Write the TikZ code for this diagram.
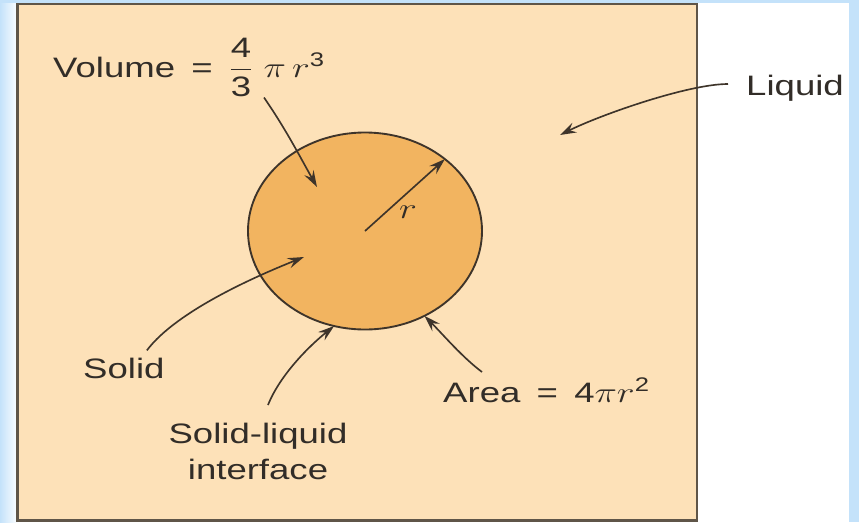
\documentclass[tikz,border=0pt]{standalone}
\usepackage{amsmath}
\usepackage{graphicx}
\usepackage{fontspec}
\setmainfont{Liberation Sans}
\usetikzlibrary{arrows.meta, shapes.geometric}

\definecolor{slideblue}{RGB}{196,226,250}
\definecolor{liquidfill}{RGB}{253,225,184}
\definecolor{solidfill}{RGB}{242,180,96}
\definecolor{inkline}{RGB}{62,52,42}
\definecolor{boxline}{RGB}{95,85,72}
\definecolor{inktext}{RGB}{50,45,40}

\newcommand{\wide}[1]{\scalebox{1.3}[1]{#1}}

\begin{document}
\begin{tikzpicture}[
    x=0.03cm, y=-0.03cm,
    >={Stealth[length=14pt, width=9pt, inset=5pt]},
    lead/.style={->, line width=1.4pt, draw=inkline},
    lbl/.style={font=\fontsize{24}{31.5}\selectfont, text=inktext, inner sep=0pt}
]

% slide background (pixel units, y pointing down)
\useasboundingbox (0,0) rectangle (859,522);
\fill[slideblue] (0,0) rectangle (859,522);
\fill[white] (16,3) rectangle (849,522);
\shade[left color=slideblue, right color=white] (0,3) rectangle (18,522);

% liquid region
\draw[line width=2.2pt, draw=boxline, fill=liquidfill] (17.5,4) rectangle (697,520.5);

% solid particle
\node[ellipse, draw=inkline, line width=1.6pt, fill=solidfill,
      minimum width=234*0.03cm, minimum height=197*0.03cm,
      inner sep=0pt, outer sep=0pt] (ball) at (365,231) {};

% labels
\node[lbl, anchor=base west] (volume) at (53,77)
    {\wide{Volume \,=\, $\dfrac{\text{4}}{\text{3}}\;\pi\, r^{\text{3}}$}};
\node[lbl, anchor=base west] (liquid) at (746,95) {\wide{Liquid}};
\node[lbl, anchor=base west] (solid) at (83,378) {\wide{Solid}};
\node[lbl, anchor=north] (iface) at (258,417)
    {\wide{\begin{tabular}{@{}c@{}}Solid-liquid\\interface\end{tabular}}};
\node[lbl, anchor=base west] (area) at (443,402) {\wide{Area \,=\, 4$\pi r^{\text{2}}$}};
\node[lbl] (rlab) at (408,212) {\wide{$r$}};

% arrow tips inside the regions
\coordinate (voltip) at (317,187);
\coordinate (soltip) at (304,257);
\coordinate (liqtip) at (560,135);

% pointers
\draw[lead] ([shift={(211,0)}]volume.south west) .. controls +(22,32) and +(-18,-32) .. (voltip);
\draw[lead] ([shift={(23,-7)}]solid.north) .. controls +(30,-40) and +(-45,18) .. (soltip);
\draw[lead] ([shift={(10,-12)}]iface.north) .. controls +(12,-30) and +(-25,20) .. (ball.252);
\draw[lead] ([shift={(39,-30)}]area.base west) .. controls +(-20,-15) and +(18,18) .. (ball.305);
\draw[lead] ([shift={(-18,-11)}]liquid.base west) .. controls +(-40,0) and +(40,-20) .. (liqtip);

% radius
\draw[lead] (ball.center) -- (ball.42);

\end{tikzpicture}
\end{document}
